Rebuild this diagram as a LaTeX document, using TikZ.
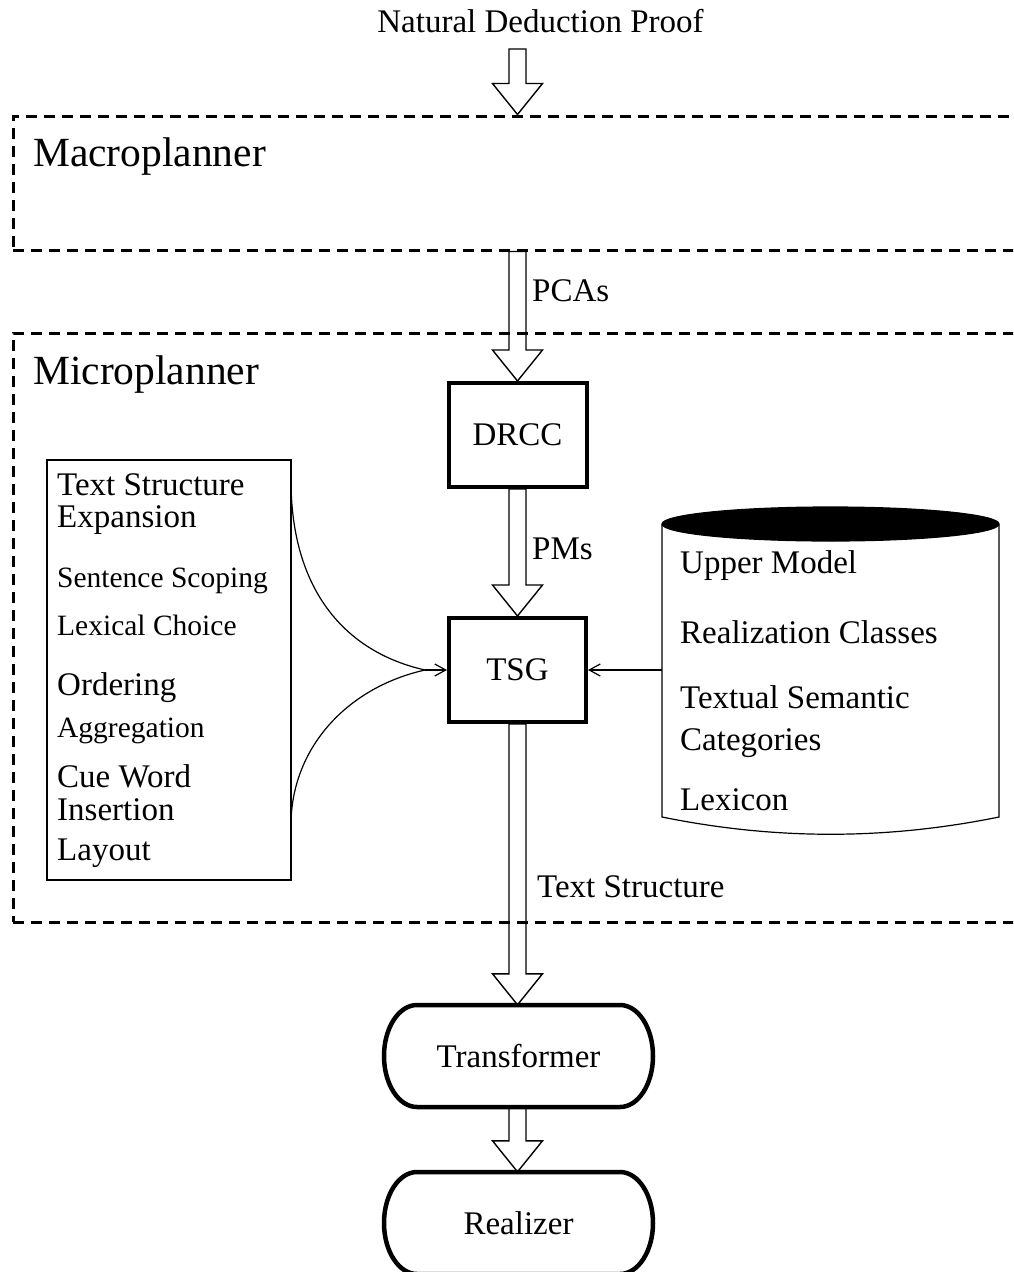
\documentclass[tikz,border=0pt]{standalone}
\usepackage{fontspec}
\setmainfont{Liberation Serif}
\usetikzlibrary{calc,arrows.meta}
\newcommand\fnorm{\fontsize{33}{38}\selectfont}
\newcommand\fsmall{\fontsize{29.5}{34}\selectfont}
\newcommand\fbig{\fontsize{41.5}{48}\selectfont}
\tikzset{
  dashbox/.style={draw, line width=3pt, dash pattern=on 11pt off 7pt, inner sep=0pt},
  procbox/.style={draw, line width=4pt, inner sep=0pt, font=\fnorm},
  blk/.style={draw, line width=1.4pt, line join=miter},
  thinln/.style={line width=1.2pt},
  tipln/.style={line width=1.2pt, -{Straight Barb[length=11pt,width=12pt]}},
  lbl/.style={inner sep=0pt, anchor=base west, font=\fnorm},
  lbls/.style={inner sep=0pt, anchor=base west, font=\fsmall},
  lblb/.style={inner sep=0pt, anchor=base west, font=\fbig},
  stad/.style={draw, line width=4.5pt, line join=round},
}
\newcommand\blkarrow[2]{\draw[blk] let \p1=(#1), \p2=(#2) in
  (\x1-8.5pt,\y1) -- (\x1-8.5pt,\y2+31pt) -- (\x1-25pt,\y2+31pt) -- (\x1,\y2)
  -- (\x1+25pt,\y2+31pt) -- (\x1+8.5pt,\y2+31pt) -- (\x1+8.5pt,\y1) -- cycle;}
\begin{document}
\begin{tikzpicture}[x=1pt,y=-1pt]
\useasboundingbox (0,0) rectangle (1013,1272);
\clip (0,0) rectangle (1013,1272);
\fill[white] (0,0) rectangle (1013,1272);

% input label
\node[inner sep=0pt, anchor=base, font=\fnorm] (ndp) at (540.5,32) {Natural Deduction Proof};

% dashed planner boxes
\node[dashbox, minimum width=1025, minimum height=134] (macro) at (525.5,183) {};
\node[lblb] (macrolbl) at (33,166) {Macroplanner};
\node[dashbox, minimum width=1025, minimum height=589] (micro) at (525.5,627.5) {};
\node[lblb] (microlbl) at (33,384) {Microplanner};

% process boxes
\node[procbox, minimum width=138, minimum height=104] (drcc) at (517.5,435) {DRCC};
\node[procbox, minimum width=137, minimum height=104] (tsg) at (517.5,670) {TSG};

% operations box
\node[draw, thinln, minimum width=244, minimum height=420, inner sep=0pt] (ops) at (169,670) {};
\node[lbl]  (o1) at (57,495) {Text Structure};
\node[lbl]  (o2) at (57,527) {Expansion};
\node[lbls] (o3) at (57,587) {Sentence Scoping};
\node[lbls] (o4) at (57,635) {Lexical Choice};
\node[lbl]  (o5) at (57,695) {Ordering};
\node[lbls] (o6) at (57,737) {Aggregation};
\node[lbl]  (o7) at (57,787) {Cue Word};
\node[lbl]  (o8) at (57,820) {Insertion};
\node[lbl]  (o9) at (57,860) {Layout};

% curves joining into TSG
\coordinate (c1) at (291,480);
\coordinate (c2) at (291,825);
\coordinate (jn) at (425,670);
\draw[thinln] (c1) .. controls (291,590) and (345,652) .. (jn);
\draw[thinln] (c2) .. controls (291,750) and (345,688) .. (jn);
\draw[tipln] (jn) -- (tsg.west);

% knowledge base cylinder
\node[minimum width=337, minimum height=310, inner sep=0pt] (kb) at (830.5,670) {};
\draw[thinln] (662,524) -- (662,817) .. controls (775,840) and (886,840) .. (999,817) -- (999,524);
\filldraw[thinln] (830.5,524) ellipse [x radius=168.5pt, y radius=17pt];
\node[lbl] (k1) at (680,573) {Upper Model};
\node[lbl] (k2) at (680,643) {Realization Classes};
\node[lbl] (k3) at (680,708) {Textual Semantic};
\node[lbl] (k4) at (680,750) {Categories};
\node[lbl] (k5) at (680,810) {Lexicon};
\draw[tipln] (kb.west) -- (tsg.east);

% transformer and realizer
\node[minimum width=269, minimum height=102, inner sep=0pt, font=\fnorm] (tr) at (518.5,1056) {Transformer};
\draw[stad] (417,1005) -- (620,1005) .. controls (638.2,1005) and (653,1027.8) .. (653,1056)
  .. controls (653,1084.2) and (638.2,1107) .. (620,1107) -- (417,1107)
  .. controls (398.8,1107) and (384,1084.2) .. (384,1056)
  .. controls (384,1027.8) and (398.8,1005) .. (417,1005) -- cycle;
\node[minimum width=269, minimum height=102, inner sep=0pt, font=\fnorm] (re) at (518.5,1223) {Realizer};
\draw[stad] (417,1172) -- (620,1172) .. controls (638.2,1172) and (653,1194.8) .. (653,1223)
  .. controls (653,1251.2) and (638.2,1274) .. (620,1274) -- (417,1274)
  .. controls (398.8,1274) and (384,1251.2) .. (384,1223)
  .. controls (384,1194.8) and (398.8,1172) .. (417,1172) -- cycle;

% block arrows
\coordinate (a0) at (517.5,49);
\blkarrow{a0}{a0 |- macro.north}
\blkarrow{drcc.north |- macro.south}{drcc.north}
\blkarrow{drcc.south}{tsg.north}
\blkarrow{tsg.south}{tsg.south |- tr.north}
\blkarrow{tsg.south |- tr.south}{tsg.south |- re.north}

% arrow labels
\node[lbl] (pcas) at (532,301) {PCAs};
\node[lbl] (pms) at (532,559) {PMs};
\node[lbl] (tsl) at (537,897) {Text Structure};
\end{tikzpicture}
\end{document}
